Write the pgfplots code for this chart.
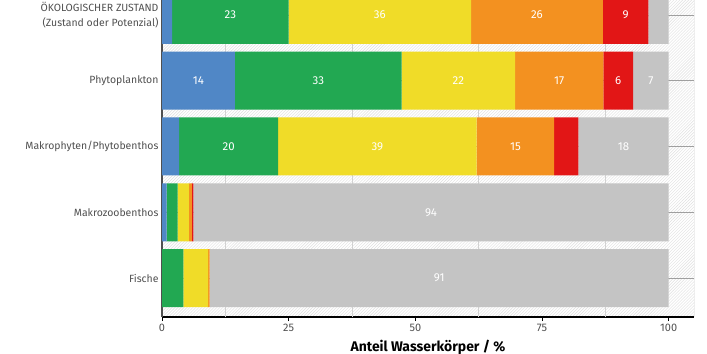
\documentclass[border=0pt]{standalone}
\usepackage{pgfplots}
\pgfplotsset{compat=1.18}
\usepackage{pgfplotstable}
\usetikzlibrary{patterns}
\usepackage{fontspec}
\setmainfont{Fira Sans}
\definecolor{cblue}{RGB}{80,135,198}
\definecolor{cgreen}{RGB}{34,168,82}
\definecolor{cyellow}{RGB}{240,220,40}
\definecolor{corange}{RGB}{243,145,32}
\definecolor{cred}{RGB}{226,22,22}
\definecolor{cgray}{RGB}{196,196,196}
\definecolor{labgray}{RGB}{80,80,80}

\pgfplotstableread{
y blue green yellow orange red gray
4 2.0 23.0 36.0 26.0 9.0 4.0
3 14.4 32.9 22.4 17.4 5.9 7.0
2 3.4 19.5 39.2 15.3 4.8 17.8
1 0.9 2.2 2.2 0.6 0.3 93.8
0 0.0 4.2 4.9 0.3 0.0 90.6
}\data

\pgfplotsset{
  seglab/.style={
    visualization depends on={\thisrow{#1}\as\rawv},
    nodes near coords={\pgfmathtruncatemacro\showit{\rawv>=5.5}\ifnum\showit=1 \pgfmathprintnumber[fixed,precision=0]{\rawv}\fi},
    every node near coord/.append style={anchor=center, text=white, font=\fontsize{11.5}{13}\selectfont},
  },
}

\begin{document}
\begin{tikzpicture}
\useasboundingbox (0,0) rectangle (707bp,354bp);
\begin{axis}[
  at={(162bp,37bp)}, anchor=south west,
  scale only axis, width=532bp, height=317bp,
  xbar stacked, bar width=58bp,
  xmin=0, xmax=105, ymin=-0.593, ymax=4.228,
  axis x line*=bottom, axis y line*=left,
  x axis line style={black, line width=1.1bp, -},
  y axis line style={labgray, line width=1.2bp, -},
  xtick={0,25,50,75,100},
  xtick align=outside, major tick length=4bp,
  x tick style={black, line width=0.8bp},
  /pgf/number format/assume math mode=true,
  xticklabel style={font=\fontsize{11}{13}\selectfont, text=labgray},
  extra x ticks={12.5,37.5,62.5,87.5},
  extra x tick labels={},
  extra x tick style={grid=major, major tick length=0pt, major grid style={gray!35, line width=1bp}},
  ytick={0,1,2,3,4},
  yticklabels={Fische, Makrozoobenthos, Makrophyten/Phytobenthos, Phytoplankton, {ÖKOLOGISCHER ZUSTAND\\(Zustand oder Potenzial)}},
  yticklabel style={align=right, font=\fontsize{10.5}{14.5}\selectfont, text=labgray},
  y tick style={draw=none},
  ymajorgrids=true,
  y grid style={gray!75, line width=0.9bp},
  axis background/.style={preaction={fill=white}, pattern=north east lines, pattern color=gray!25},
  xlabel={Anteil Wasserkörper / \%},
  xlabel style={font=\fontsize{14}{16}\selectfont\bfseries, yshift=3bp},
]
\addplot[fill=cblue, draw=none, seglab=blue] table[x=blue, y=y]{\data};
\addplot[fill=cgreen, draw=none, seglab=green] table[x=green, y=y]{\data};
\addplot[fill=cyellow, draw=none, seglab=yellow] table[x=yellow, y=y]{\data};
\addplot[fill=corange, draw=none, seglab=orange] table[x=orange, y=y]{\data};
\addplot[fill=cred, draw=none, seglab=red] table[x=red, y=y]{\data};
\addplot[fill=cgray, draw=none, seglab=gray] table[x=gray, y=y]{\data};
\draw[gray, line width=0.9bp] (rel axis cs:1,0) -- (rel axis cs:1,1);
\end{axis}
\end{tikzpicture}
\end{document}
